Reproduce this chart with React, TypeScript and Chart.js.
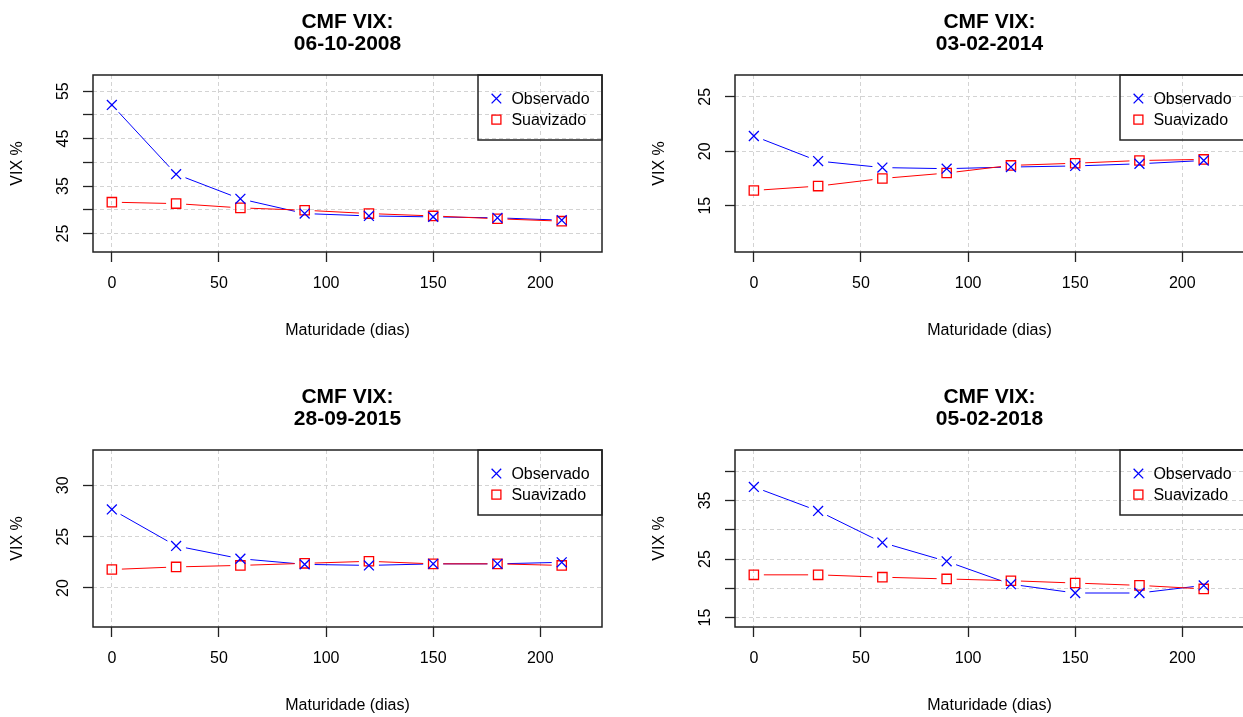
import React, { useEffect, useRef } from 'react';
import { Chart, registerables } from 'chart.js';

Chart.register(...registerables);

// ---------- data ----------
const maturities = [0, 30, 60, 90, 120, 150, 180, 210];
const xTickValues = [0, 50, 100, 150, 200];
const xAxisRange = [-8.8, 228.8];
const titlePrefix = 'CMF VIX:';
const xAxisTitle = 'Maturidade (dias)';
const yAxisTitle = 'VIX %';
const seriesLabels = ['Observado', 'Suavizado'];

const dates = ['06-10-2008', '03-02-2014', '28-09-2015', '05-02-2018'];

const observado2008 = [52.1, 37.5, 32.3, 29.2, 28.7, 28.5, 28.3, 27.8];
const suavizado2008 = [31.6, 31.3, 30.4, 29.9, 29.2, 28.7, 28.1, 27.6];
const observado2014 = [21.4, 19.1, 18.5, 18.4, 18.55, 18.65, 18.85, 19.15];
const suavizado2014 = [16.4, 16.8, 17.5, 18.0, 18.7, 18.9, 19.15, 19.25];
const observado2015 = [27.65, 24.1, 22.85, 22.3, 22.2, 22.35, 22.35, 22.5];
const suavizado2015 = [21.8, 22.05, 22.2, 22.4, 22.6, 22.35, 22.35, 22.2];
const observado2018 = [37.3, 33.2, 27.8, 24.6, 20.7, 19.2, 19.2, 20.5];
const suavizado2018 = [22.3, 22.3, 21.9, 21.6, 21.3, 20.9, 20.5, 19.9];

const yTicks2008 = [25, 30, 35, 40, 45, 50, 55];
const yTickLabels2008 = ['25', '', '35', '', '45', '', '55'];
const yTicks2014 = [15, 20, 25];
const yTickLabels2014 = ['15', '20', '25'];
const yTicks2015 = [20, 25, 30];
const yTickLabels2015 = ['20', '25', '30'];
const yTicks2018 = [15, 20, 25, 30, 35, 40];
const yTickLabels2018 = ['15', '', '25', '', '35', ''];

const yRange2008 = [21.1, 58.4];
const yRange2014 = [10.75, 27.0];
const yRange2015 = [16.2, 33.44];
const yRange2018 = [13.4, 43.6];

// ---------- styles ----------
const FONT = "'Liberation Sans', Arial, Helvetica, sans-serif";
const BLUE = '#0000FF';
const RED = '#FF0000';
const AXIS = '#222222';
const GRID = '#d3d3d3';
const CANVAS_W = 620;
const CANVAS_H = 358;

const panels = [
  { date: dates[0], obs: observado2008, suav: suavizado2008, ticks: yTicks2008, labels: yTickLabels2008, range: yRange2008, left: 0, top: 0 },
  { date: dates[1], obs: observado2014, suav: suavizado2014, ticks: yTicks2014, labels: yTickLabels2014, range: yRange2014, left: 642, top: 0 },
  { date: dates[2], obs: observado2015, suav: suavizado2015, ticks: yTicks2015, labels: yTickLabels2015, range: yRange2015, left: 0, top: 375 },
  { date: dates[3], obs: observado2018, suav: suavizado2018, ticks: yTicks2018, labels: yTickLabels2018, range: yRange2018, left: 642, top: 375 },
];

const drawCross = (ctx: CanvasRenderingContext2D, x: number, y: number, h: number) => {
  ctx.beginPath();
  ctx.moveTo(x - h, y - h);
  ctx.lineTo(x + h, y + h);
  ctx.moveTo(x - h, y + h);
  ctx.lineTo(x + h, y - h);
  ctx.stroke();
};

const gapLinesPlugin = {
  id: 'gapLines',
  beforeDatasetsDraw(chart: any) {
    const ctx: CanvasRenderingContext2D = chart.ctx;
    const gap = 10;
    ctx.save();
    chart.data.datasets.forEach((ds: any, i: number) => {
      const meta = chart.getDatasetMeta(i);
      const pts = meta.data;
      ctx.strokeStyle = ds.borderColor;
      ctx.lineWidth = 1;
      ctx.setLineDash([]);
      for (let k = 0; k < pts.length - 1; k++) {
        const p0 = pts[k];
        const p1 = pts[k + 1];
        const dx = p1.x - p0.x;
        const dy = p1.y - p0.y;
        const L = Math.hypot(dx, dy);
        if (L <= 2 * gap) continue;
        const ux = dx / L;
        const uy = dy / L;
        ctx.beginPath();
        ctx.moveTo(p0.x + ux * gap, p0.y + uy * gap);
        ctx.lineTo(p1.x - ux * gap, p1.y - uy * gap);
        ctx.stroke();
      }
    });
    ctx.restore();
  },
};

const decorPlugin = {
  id: 'decor',
  afterDraw(chart: any) {
    const ctx: CanvasRenderingContext2D = chart.ctx;
    const a = chart.chartArea;
    const opts = chart.options.plugins.decor;
    ctx.save();
    // box
    ctx.strokeStyle = AXIS;
    ctx.lineWidth = 1.5;
    ctx.setLineDash([]);
    ctx.strokeRect(a.left, a.top, a.right - a.left, a.bottom - a.top);

    // title
    const cx = (a.left + a.right) / 2;
    ctx.fillStyle = '#000';
    ctx.font = `bold 21px ${FONT}`;
    ctx.textAlign = 'center';
    ctx.textBaseline = 'middle';
    ctx.fillText(titlePrefix, cx, 22);
    ctx.fillText(opts.date, cx, 44.5);

    // legend
    const lw = 124;
    const lh = 65;
    const lx = a.right - lw;
    const ly = a.top;
    ctx.lineWidth = 1.5;
    ctx.strokeStyle = AXIS;
    ctx.strokeRect(lx, ly, lw, lh);
    ctx.font = `16px ${FONT}`;
    ctx.textAlign = 'left';
    ctx.fillStyle = '#000';
    const rows = [ly + 23.6, ly + 44.6];
    ctx.lineWidth = 1.3;
    ctx.strokeStyle = BLUE;
    drawCross(ctx, lx + 18.4, rows[0], 4.8);
    ctx.strokeStyle = RED;
    ctx.strokeRect(lx + 18.4 - 4.5, rows[1] - 4.5, 9, 9);
    ctx.fillText(seriesLabels[0], lx + 33.4, rows[0] + 0.5);
    ctx.fillText(seriesLabels[1], lx + 33.4, rows[1] + 0.5);
    ctx.restore();
  },
};

function Panel({ p }: { p: any }) {
  const ref = useRef<HTMLCanvasElement>(null);
  useEffect(() => {
    const canvas = ref.current!;
    const chart = new Chart(canvas, {
      type: 'line',
      data: {
        datasets: [
          {
            label: seriesLabels[0],
            data: maturities.map((x, i) => ({ x, y: p.obs[i] })),
            borderColor: BLUE,
            backgroundColor: BLUE,
            showLine: false,
            pointStyle: 'crossRot',
            pointRadius: 7,
            pointHoverRadius: 7,
            pointBorderWidth: 1.3,
            pointBorderColor: BLUE,
            pointBackgroundColor: 'rgba(0,0,0,0)',
          },
          {
            label: seriesLabels[1],
            data: maturities.map((x, i) => ({ x, y: p.suav[i] })),
            borderColor: RED,
            backgroundColor: RED,
            showLine: false,
            pointStyle: 'rect',
            pointRadius: 6.6,
            pointHoverRadius: 6.6,
            pointBorderWidth: 1.3,
            pointBorderColor: RED,
            pointBackgroundColor: 'rgba(0,0,0,0)',
          },
        ],
      },
      options: {
        responsive: false,
        animation: false,
        events: [],
        layout: { padding: { left: 0, top: 75, right: 18, bottom: 0 } },
        plugins: {
          legend: { display: false },
          title: { display: false },
          tooltip: { enabled: false },
          decor: { date: p.date },
        } as any,
        scales: {
          x: {
            type: 'linear',
            min: xAxisRange[0],
            max: xAxisRange[1],
            afterBuildTicks: (s: any) => {
              s.ticks = xTickValues.map((v) => ({ value: v }));
            },
            afterFit: (s: any) => {
              s.height = 106;
            },
            grid: {
              color: GRID,
              lineWidth: 1,
              drawTicks: true,
              tickLength: 10,
              tickColor: AXIS,
              tickWidth: 1.3,
              tickBorderDash: [],
            },
            border: { display: false, dash: [4, 3] },
            ticks: {
              autoSkip: false,
              maxRotation: 0,
              minRotation: 0,
              padding: 12,
              color: '#000',
              font: { family: FONT, size: 16 },
              callback: (v: any) => String(v),
            },
            title: {
              display: true,
              text: xAxisTitle,
              color: '#000',
              font: { family: FONT, size: 16 },
              padding: { top: 0, bottom: 18 },
            },
          },
          y: {
            type: 'linear',
            min: p.range[0],
            max: p.range[1],
            afterBuildTicks: (s: any) => {
              s.ticks = p.ticks.map((v: number) => ({ value: v }));
            },
            afterFit: (s: any) => {
              s.width = 93;
            },
            grid: {
              color: GRID,
              lineWidth: 1,
              drawTicks: true,
              tickLength: 10,
              tickColor: AXIS,
              tickWidth: 1.3,
              tickBorderDash: [],
            },
            border: { display: false, dash: [4, 3] },
            ticks: {
              autoSkip: false,
              minRotation: 90,
              maxRotation: 90,
              crossAlign: 'center',
              padding: 11,
              color: '#000',
              font: { family: FONT, size: 16 },
              callback: (v: any) => {
                const idx = p.ticks.indexOf(Number(v));
                return idx >= 0 ? p.labels[idx] : '';
              },
            },
            title: {
              display: true,
              text: yAxisTitle,
              color: '#000',
              font: { family: FONT, size: 16 },
              padding: { top: 8.4, bottom: 0 },
            },
          },
        },
      } as any,
      plugins: [gapLinesPlugin, decorPlugin],
    });
    return () => chart.destroy();
  }, [p]);
  return (
    <canvas
      ref={ref}
      width={CANVAS_W}
      height={CANVAS_H}
      style={{ position: 'absolute', left: p.left, top: p.top, width: CANVAS_W, height: CANVAS_H }}
    />
  );
}

export default function App() {
  return (
    <div
      style={{
        position: 'fixed',
        left: 0,
        top: 0,
        width: 1243,
        height: 717,
        overflow: 'hidden',
        background: '#fff',
      }}
    >
      {panels.map((p, i) => (
        <Panel key={i} p={p} />
      ))}
    </div>
  );
}
